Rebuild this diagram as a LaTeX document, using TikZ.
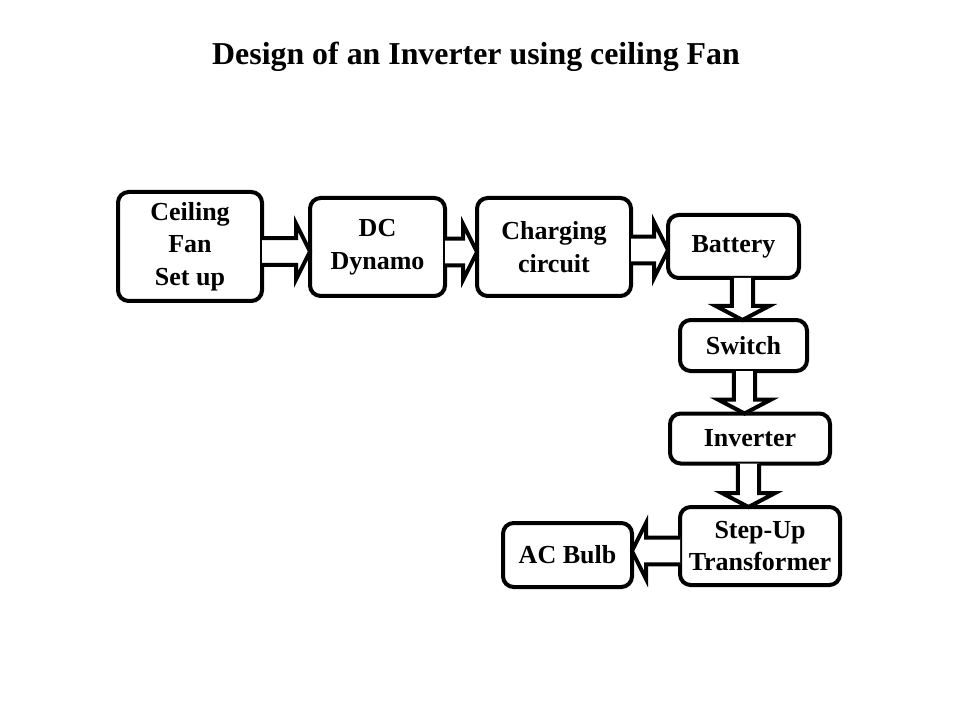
\documentclass[tikz,border=0pt]{standalone}
\usepackage{fontspec}
\setmainfont{Liberation Serif}
\usetikzlibrary{calc}
\tikzset{
  box/.style={draw, line width=3pt, rounded corners=8pt, align=center, outer sep=0pt,
    font=\bfseries\fontsize{19.5}{24.5}\selectfont, inner sep=0pt},
  blockarrow/.style={draw, line width=3pt, line join=miter, fill=white}
}
\newcommand\hsw{10pt}
\newcommand\hhw{21pt}
\newcommand\vsw{8pt}
\newcommand\vhw{20pt}
\newcommand\hl{10.5pt}
% horizontal block arrow: #1 start, #2 tip, #3 direction (+1 right, -1 left)
\newcommand\harrow[3]{\draw[blockarrow] let \p1=(#1), \p2=(#2) in
  (\x1,\y1+\hsw) -- ({\x2-#3*\hl},\y1+\hsw) -- ({\x2-#3*\hl},\y1+\hhw) -- (\x2,\y1)
  -- ({\x2-#3*\hl},\y1-\hhw) -- ({\x2-#3*\hl},\y1-\hsw) -- (\x1,\y1-\hsw);}
% vertical block arrow downwards
\newcommand\varrow[2]{\draw[blockarrow] let \p1=(#1), \p2=(#2) in
  (\x1-\vsw,\y1) -- (\x1-\vsw,\y2+\hl) -- (\x1-\vhw,\y2+\hl) -- (\x1,\y2)
  -- (\x1+\vhw,\y2+\hl) -- (\x1+\vsw,\y2+\hl) -- (\x1+\vsw,\y1);}
\begin{document}
\begin{tikzpicture}[x=0.75pt,y=-0.75pt]
\useasboundingbox (0,0) rectangle (960,720);
\node[font=\bfseries\fontsize{23.9}{28}\selectfont] (title) at (476,57) {Design of an Inverter using ceiling Fan};
\node[box, minimum width=108pt, minimum height=81.75pt] (fan) at (190,246.5) {Ceiling\\Fan\\Set up};
\node[box, minimum width=101.25pt, minimum height=73.5pt] (dyn) at (377.5,247) {DC\\Dynamo};
\node[box, minimum width=115.5pt, minimum height=73.5pt] (chg) at (554,247) {Charging\\circuit};
\node[box, minimum width=98.25pt, minimum height=47.25pt] (bat) at (733.5,246.5) {Battery};
\node[box, minimum width=95.25pt, minimum height=38.25pt] (sw) at (743.5,345.5) {Switch};
\node[box, minimum width=120pt, minimum height=37.5pt] (inv) at (750,438.5) {Inverter};
\node[box, minimum width=120pt, minimum height=58.5pt] (tr) at (760,546) {Step-Up\\Transformer};
\node[box, minimum width=96.75pt, minimum height=48pt] (bulb) at (567.5,555) {AC Bulb};
\harrow{$(fan.east)+(0,5)$}{dyn.west}{1}
\harrow{$(dyn.east)+(0,5)$}{chg.west}{1}
\harrow{$(chg.east)+(0,3)$}{bat.west}{1}
\varrow{$(bat.south)+(9,0)$}{sw.north}
\varrow{$(sw.south)+(1,0)$}{inv.north}
\varrow{$(inv.south)+(-1.5,0)$}{tr.north}
\harrow{$(tr.west)+(0,5)$}{bulb.east}{-1}
\end{tikzpicture}
\end{document}
